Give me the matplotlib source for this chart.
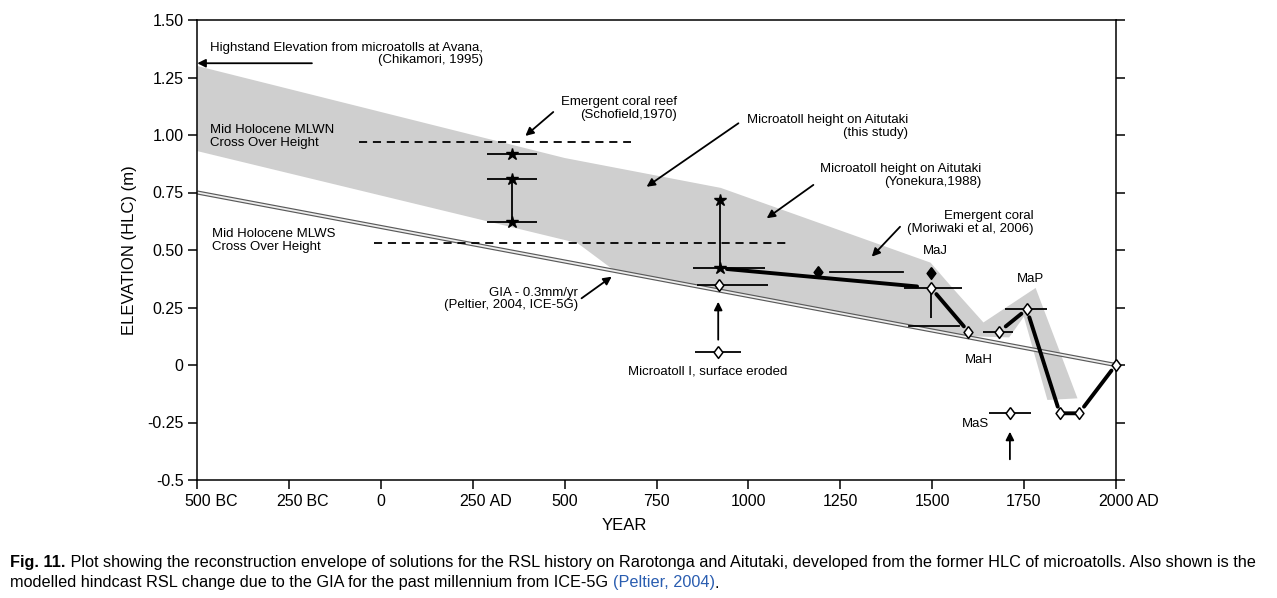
import matplotlib
matplotlib.use('Agg')
import matplotlib.pyplot as plt

plt.rcParams['font.family'] = ['Liberation Sans', 'DejaVu Sans']

# axis ticks
year_ticks = [-500, -250, 0, 250, 500, 750, 1000, 1250, 1500, 1750, 2000]
year_nums = ['500', '250', '0', '250', '500', '750', '1000', '1250', '1500', '1750', '2000']
year_suffix = [' BC', ' BC', '', ' AD', '', '', '', '', '', '', ' AD']
elev_ticks = [-0.5, -0.25, 0, 0.25, 0.5, 0.75, 1.0, 1.25, 1.5]
elev_labels = ['-0.5', '-0.25', '0', '0.25', '0.50', '0.75', '1.00', '1.25', '1.50']

# reconstruction envelope (outline, clockwise)
env_x = [-500, 500, 925, 1496, 1553, 1640, 1782, 1896, 1814, 1750, 1710, 1600, 640, 535, -500]
env_y = [1.30, 0.90, 0.77, 0.445, 0.34, 0.185, 0.335, -0.145, -0.152, 0.21, 0.12, 0.125, 0.405, 0.53, 0.93]

# GIA hindcast, 0.3 mm/yr
gia_x = [-500, 2000]
gia_y = [0.75, 0.0]

# cross over heights
mlwn_x = [-60, 680]
mlwn_y = [0.97, 0.97]
mlws_x = [-20, 1113]
mlws_y = [0.53, 0.53]

# emergent coral reef (Schofield) - stars
reef_x = [356, 356, 356]
reef_y = [0.917, 0.807, 0.623]
reef_err = 68

# microatoll heights Aitutaki (Yonekura) - stars
yon_x = [923, 923]
yon_y = [0.717, 0.42]
yon_err_lo = 73
yon_err_hi = 122

# microatoll (this study) around 920 AD
ma_x = [921]
ma_y = [0.35]
ma_err = [[62], [133]]
eroded_x = [918]
eroded_y = [0.058]
eroded_err = 63

# emergent coral (Moriwaki) - filled diamonds
mor_x = [1189, 1497]
mor_y = [0.405, 0.40]
mor_bar_x = [1222, 1422]
mor_bar_y = [0.405, 0.405]

# named microatolls
maj_x, maj_y = 1497, 0.336
maj_err = [[73], [84]]
maj_low = 0.203
maj_bar_x = [1437, 1573]
maj_bar_y = [0.17, 0.17]
mah_x = [1599, 1683]
mah_y = [0.145, 0.145]
mah_err = [[0, 43], [0, 38]]
map_x, map_y = 1758, 0.242
map_err = [[59], [54]]
late_x = [1848, 1900, 2000]
late_y = [-0.21, -0.21, 0.0]
mas_x, mas_y = 1712, -0.21
mas_err = 57

# RSL path through the microatolls
path_x = [maj_x, mah_x[0], None, mah_x[1], map_x] + late_x
path_y = [maj_y, mah_y[0], None, mah_y[1], map_y] + late_y

fig = plt.figure(figsize=(12.77, 5.98), dpi=100)
ax = fig.add_axes([197.3 / 1277, 118 / 598, 918.4 / 1277, 460 / 598])

ax.fill(env_x, env_y, color='#cfcfcf', lw=0, zorder=1)

ax.plot(gia_x, gia_y, color='#5a5a5a', lw=3.0, solid_capstyle='butt', zorder=2)
ax.plot(gia_x, gia_y, color='#eeeeee', lw=1.3, solid_capstyle='butt', zorder=2.1)

dash = (0, (4.5, 3.2))
ax.plot(mlwn_x, mlwn_y, color='k', lw=1.3, linestyle=dash, zorder=3)
ax.plot(mlws_x, mlws_y, color='k', lw=1.3, linestyle=dash, zorder=3)

lw_bar = 1.3
ax.errorbar(reef_x, reef_y, xerr=reef_err, fmt='none', ecolor='k', elinewidth=lw_bar, capsize=0, zorder=4)
ax.plot(reef_x[1:], reef_y[1:], color='k', lw=lw_bar, zorder=4)
ax.plot(reef_x, reef_y, linestyle='none', marker='*', ms=9, mfc='k', mec='k', zorder=6)

ax.errorbar(yon_x[1:], yon_y[1:], xerr=[[yon_err_lo], [yon_err_hi]], fmt='none', ecolor='k',
            elinewidth=lw_bar, capsize=0, zorder=4)
ax.plot(yon_x, yon_y, color='k', lw=lw_bar, zorder=4)
ax.plot(yon_x, yon_y, linestyle='none', marker='*', ms=9, mfc='k', mec='k', zorder=6)

ax.errorbar(ma_x, ma_y, xerr=ma_err, fmt='none', ecolor='k', elinewidth=lw_bar, capsize=0, zorder=4)
ax.errorbar(eroded_x, eroded_y, xerr=eroded_err, fmt='none', ecolor='k', elinewidth=lw_bar, capsize=0, zorder=4)
ax.plot(mor_bar_x, mor_bar_y, color='k', lw=lw_bar, zorder=4)
ax.errorbar([maj_x], [maj_y], xerr=maj_err, yerr=[[maj_y - maj_low], [0]], fmt='none', ecolor='k',
            elinewidth=lw_bar, capsize=0, zorder=4)
ax.plot(maj_bar_x, maj_bar_y, color='k', lw=lw_bar, zorder=4)
ax.errorbar(mah_x, mah_y, xerr=mah_err, fmt='none', ecolor='k', elinewidth=lw_bar, capsize=0, zorder=4)
ax.errorbar([map_x], [map_y], xerr=map_err, fmt='none', ecolor='k', elinewidth=lw_bar, capsize=0, zorder=4)
ax.errorbar([mas_x], [mas_y], xerr=mas_err, fmt='none', ecolor='k', elinewidth=lw_bar, capsize=0, zorder=4)

# thick connecting lines, with a gap at each marker
def thick(p, q, sa=7, sb=7):
    ax.annotate('', xy=q, xytext=p, zorder=5,
                arrowprops=dict(arrowstyle='-', lw=2.8, color='k', shrinkA=sa, shrinkB=sb))

thick((yon_x[1], yon_y[1]), (maj_x, maj_y), 5, 10)
for i in range(len(path_x) - 1):
    if path_x[i] is None or path_x[i + 1] is None:
        continue
    gap = 3 if path_y[i] == path_y[i + 1] else 6
    thick((path_x[i], path_y[i]), (path_x[i + 1], path_y[i + 1]), gap, gap - 1)

diamond = [(0, 1), (0.75, 0), (0, -1), (-0.75, 0), (0, 1)]
open_x = ma_x + eroded_x + [maj_x] + mah_x + [map_x] + late_x + [mas_x]
open_y = ma_y + eroded_y + [maj_y] + mah_y + [map_y] + late_y + [mas_y]
ax.plot(open_x, open_y, linestyle='none', marker=diamond, ms=8.5, mfc='white', mec='k', mew=1.1,
        zorder=7, clip_on=False)
ax.plot(mor_x, mor_y, linestyle='none', marker=diamond, ms=8.5, mfc='k', mec='k', zorder=7)

# annotations
fs = 9.5
arrow = dict(arrowstyle='-|>', color='k', lw=1.3, mutation_scale=12, shrinkA=0, shrinkB=0)
ax.text(-465, 1.352, 'Highstand Elevation from microatolls at Avana,\n(Chikamori, 1995)',
        fontsize=fs, ha='left', va='center', multialignment='right', linespacing=1.1)
ax.annotate('', xy=(-500, 1.312), xytext=(-188, 1.312), arrowprops=arrow)
ax.text(-465, 0.993, 'Mid Holocene MLWN\nCross Over Height', fontsize=fs, ha='left', va='center', linespacing=1.1)
ax.text(-461, 0.543, 'Mid Holocene MLWS\nCross Over Height', fontsize=fs, ha='left', va='center', linespacing=1.1)
ax.text(805, 1.116, 'Emergent coral reef\n(Schofield,1970)', fontsize=fs, ha='right', va='center',
        multialignment='right', linespacing=1.1)
ax.annotate('', xy=(393, 0.996), xytext=(469, 1.10), arrowprops=arrow)
ax.text(1435, 1.038, 'Microatoll height on Aitutaki\n(this study)', fontsize=fs, ha='right', va='center',
        multialignment='right', linespacing=1.1)
ax.annotate('', xy=(723, 0.775), xytext=(973, 1.051), arrowprops=arrow)
ax.text(1635, 0.824, 'Microatoll height on Aitutaki\n(Yonekura,1988)', fontsize=fs, ha='right', va='center',
        multialignment='right', linespacing=1.1)
ax.annotate('', xy=(1050, 0.638), xytext=(1177, 0.783), arrowprops=arrow)
ax.text(1776, 0.619, 'Emergent coral\n(Moriwaki et al, 2006)', fontsize=fs, ha='right', va='center',
        multialignment='right', linespacing=1.1)
ax.annotate('', xy=(1336, 0.471), xytext=(1413, 0.601), arrowprops=arrow)
ax.text(536, 0.287, 'GIA - 0.3mm/yr\n(Peltier, 2004, ICE-5G)', fontsize=fs, ha='right', va='center',
        multialignment='right', linespacing=1.1)
ax.annotate('', xy=(628, 0.384), xytext=(546, 0.29), arrowprops=arrow)
ax.text(888, -0.03, 'Microatoll I, surface eroded', fontsize=fs, ha='center', va='center')
ax.annotate('', xy=(918, 0.275), xytext=(918, 0.11), arrowprops=arrow)
ax.annotate('', xy=(1712, -0.29), xytext=(1712, -0.41), arrowprops=arrow)
ax.text(1508, 0.497, 'MaJ', fontsize=fs, ha='center', va='center')
ax.text(1767, 0.373, 'MaP', fontsize=fs, ha='center', va='center')
ax.text(1627, 0.022, 'MaH', fontsize=fs, ha='center', va='center')
ax.text(1617, -0.257, 'MaS', fontsize=fs, ha='center', va='center')

# axes styling
ax.set_xlim(-500, 2000)
ax.set_ylim(-0.5, 1.5)
ax.set_xticks(year_ticks, year_nums, fontsize=11.5)
ax.set_yticks(elev_ticks, elev_labels, fontsize=11.5)
ax.tick_params(axis='both', direction='out', length=6.5, width=1.1, pad=3.5)
ax.tick_params(axis='y', right=True, labelright=False)
for s in ax.spines.values():
    s.set_linewidth(1.1)
ax.set_xlabel('YEAR', fontsize=12)
ax.set_ylabel('ELEVATION (HLC) (m)', fontsize=12)
ax.xaxis.set_label_coords(0.4646, -0.083)
ax.yaxis.set_label_coords(-0.066, 0.5)

fig.canvas.draw()
for lab, suf in zip(ax.get_xticklabels(), year_suffix):
    if suf:
        ax.annotate(suf, xy=(1, 0), xycoords=lab, ha='left', va='bottom', fontsize=11.5,
                    annotation_clip=False)

# caption
cap_fs = 11.7
c1 = fig.text(10 / 1277, 1 - 563 / 598, 'Fig. 11.', fontsize=cap_fs, weight='bold', va='center')
ax.annotate(' Plot showing the reconstruction envelope of solutions for the RSL history on Rarotonga and '
            'Aitutaki, developed from the former HLC of microatolls. Also shown is the',
            xy=(1, 0), xycoords=c1, ha='left', va='bottom', fontsize=cap_fs, annotation_clip=False)
c2 = fig.text(10 / 1277, 1 - 583 / 598,
              'modelled hindcast RSL change due to the GIA for the past millennium from ICE-5G ',
              fontsize=cap_fs, va='center')
c3 = ax.annotate('(Peltier, 2004)', xy=(1, 0), xycoords=c2, ha='left', va='bottom', fontsize=cap_fs,
                 color='#2a5db0', annotation_clip=False)
ax.annotate('.', xy=(1, 0), xycoords=c3, ha='left', va='bottom', fontsize=cap_fs, annotation_clip=False)

fig.savefig('out.png', dpi=100)
